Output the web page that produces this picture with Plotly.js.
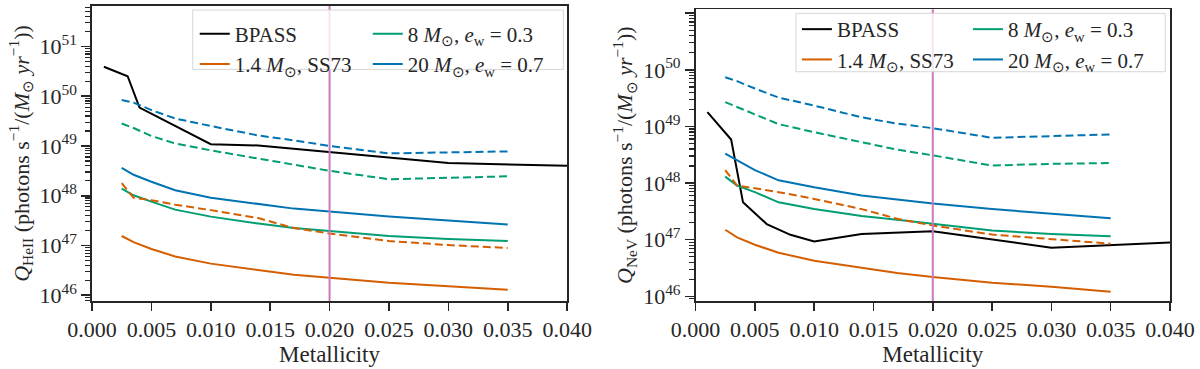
<!DOCTYPE html>
<html>
<head>
<meta charset="utf-8">
<script src="https://cdn.plot.ly/plotly-3.0.1.min.js"></script>
<style>html,body{margin:0;padding:0;background:#fff;}#chart{width:1200px;height:369px;}</style>
</head>
<body>
<div id="chart"></div>
<script>
// ---- data ----
const bpassZ = [0.001, 0.002, 0.003, 0.004, 0.006, 0.008, 0.010, 0.014, 0.020, 0.030, 0.040];
const modelZ = [0.0025, 0.0035, 0.005, 0.007, 0.010, 0.014, 0.017, 0.020, 0.025, 0.030, 0.035];
const solarZ = 0.02;

// Left panel: Q_HeII
const heBPASS      = [3.89e50, 3.16e50, 2.51e50, 5.89e49, 3.35e49, 1.91e49, 1.08e49, 1.02e49, 7.59e48, 4.52e48, 3.98e48];
const heOrange     = [1.55e47, 1.17e47, 8.51e46, 6.03e46, 4.32e46, 3.16e46, 2.57e46, 2.26e46, 1.78e46, 1.51e46, 1.29e46];
const heGreen      = [1.38e48, 1.02e48, 7.59e47, 5.25e47, 3.80e47, 2.75e47, 2.24e47, 1.95e47, 1.55e47, 1.35e47, 1.23e47];
const heBlue       = [3.63e48, 2.63e48, 1.91e48, 1.29e48, 9.12e47, 6.76e47, 5.50e47, 4.79e47, 3.80e47, 3.16e47, 2.63e47];
const heOrangeDash = [1.78e48, 9.12e47, 8.13e47, 6.61e47, 5.13e47, 3.55e47, 2.24e47, 1.74e47, 1.23e47, 1.02e47, 8.91e46];
const heGreenDash  = [2.82e49, 2.29e49, 1.58e49, 1.12e49, 8.13e48, 5.56e48, 4.07e48, 3.16e48, 2.14e48, 2.29e48, 2.45e48];
const heBlueDash   = [8.32e49, 7.41e49, 5.25e49, 3.55e49, 2.51e49, 1.62e49, 1.29e49, 1.00e49, 7.08e48, 7.41e48, 7.76e48];

// Right panel: Q_NeV
const neBPASS      = [1.80e49, 1.02e49, 5.89e48, 4.57e47, 1.89e47, 1.22e47, 9.33e46, 1.26e47, 1.41e47, 7.24e46, 8.91e46];
const neOrange     = [1.50e47, 1.10e47, 8.13e46, 5.89e46, 4.23e46, 3.16e46, 2.57e46, 2.19e46, 1.74e46, 1.48e46, 1.20e46];
const neGreen      = [1.30e48, 9.02e47, 6.92e47, 4.57e47, 3.47e47, 2.63e47, 2.24e47, 1.91e47, 1.45e47, 1.26e47, 1.15e47];
const neBlue       = [3.31e48, 2.51e48, 1.70e48, 1.12e48, 8.41e47, 6.03e47, 5.13e47, 4.37e47, 3.47e47, 2.88e47, 2.40e47];
const neOrangeDash = [1.70e48, 9.02e47, 8.13e47, 6.92e47, 5.25e47, 3.47e47, 2.34e47, 1.78e47, 1.23e47, 1.02e47, 8.51e46];
const neGreenDash  = [2.69e49, 2.21e49, 1.64e49, 1.10e49, 7.94e48, 5.25e48, 3.89e48, 3.09e48, 2.04e48, 2.19e48, 2.26e48];
const neBlueDash   = [7.41e49, 6.31e49, 4.68e49, 3.24e49, 2.34e49, 1.45e49, 1.12e49, 9.33e48, 6.31e48, 6.76e48, 7.24e48];

// series names
const nameBPASS  = 'BPASS';
const nameOrange = '1.4 <i>M</i><sub>⊙</sub>, SS73';
const nameGreen  = '8 <i>M</i><sub>⊙</sub>, <i>e</i><sub>w</sub> = 0.3';
const nameBlue   = '20 <i>M</i><sub>⊙</sub>, <i>e</i><sub>w</sub> = 0.7';

// tick labels
const xTickVals = [0, 0.005, 0.010, 0.015, 0.020, 0.025, 0.030, 0.035, 0.040];
const xTickText = ['0.000', '0.005', '0.010', '0.015', '0.020', '0.025', '0.030', '0.035', '0.040'];
const yTickVals = [1e46, 1e47, 1e48, 1e49, 1e50, 1e51];
const yTickText = ['10<sup>46</sup>', '10<sup>47</sup>', '10<sup>48</sup>', '10<sup>49</sup>', '10<sup>50</sup>', '10<sup>51</sup>'];

// ---- styling ----
const C = {black: '#000000', orange: '#d55e00', green: '#029e73', blue: '#0173b2', vline: '#cc78bc', axis: '#262626'};
const FONT = 'Liberation Serif';
const FS = 22;
const LW = 2;
const DASH = '8px,4px';

const minorVals = [];
for (let e = 45; e <= 51; e++) for (let m = 2; m <= 9; m++) minorVals.push(m * Math.pow(10, e));

function tr(x, y, name, color, xa, ya, opts) {
  return Object.assign({
    type: 'scatter', mode: 'lines', x: x, y: y, name: name,
    line: {color: color, width: LW}, xaxis: xa, yaxis: ya, hoverinfo: 'skip'
  }, opts || {});
}

const traces = [
  // left panel
  tr(bpassZ, heBPASS, nameBPASS, C.black, 'x', 'y', {legend: 'legend', legendrank: 1}),
  tr(modelZ, heOrange, nameOrange, C.orange, 'x', 'y', {legend: 'legend', legendrank: 2}),
  tr(modelZ, heGreen, nameGreen, C.green, 'x', 'y', {legend: 'legend2', legendrank: 3}),
  tr(modelZ, heBlue, nameBlue, C.blue, 'x', 'y', {legend: 'legend2', legendrank: 4}),
  tr(modelZ, heOrangeDash, nameOrange, C.orange, 'x', 'y', {showlegend: false, line: {color: C.orange, width: LW, dash: DASH}}),
  tr(modelZ, heGreenDash, nameGreen, C.green, 'x', 'y', {showlegend: false, line: {color: C.green, width: LW, dash: DASH}}),
  tr(modelZ, heBlueDash, nameBlue, C.blue, 'x', 'y', {showlegend: false, line: {color: C.blue, width: LW, dash: DASH}}),
  // right panel
  tr(bpassZ, neBPASS, nameBPASS, C.black, 'x2', 'y2', {legend: 'legend3', legendrank: 1}),
  tr(modelZ, neOrange, nameOrange, C.orange, 'x2', 'y2', {legend: 'legend3', legendrank: 2}),
  tr(modelZ, neGreen, nameGreen, C.green, 'x2', 'y2', {legend: 'legend4', legendrank: 3}),
  tr(modelZ, neBlue, nameBlue, C.blue, 'x2', 'y2', {legend: 'legend4', legendrank: 4}),
  tr(modelZ, neOrangeDash, nameOrange, C.orange, 'x2', 'y2', {showlegend: false, line: {color: C.orange, width: LW, dash: DASH}}),
  tr(modelZ, neGreenDash, nameGreen, C.green, 'x2', 'y2', {showlegend: false, line: {color: C.green, width: LW, dash: DASH}}),
  tr(modelZ, neBlueDash, nameBlue, C.blue, 'x2', 'y2', {showlegend: false, line: {color: C.blue, width: LW, dash: DASH}})
];

function xAxis(domain, anchor) {
  return {
    domain: domain, anchor: anchor, range: [0, 0.04],
    tickmode: 'array', tickvals: xTickVals, ticktext: xTickText,
    ticks: 'outside', ticklen: 8, tickwidth: 1.6, tickcolor: C.axis,
    showline: true, mirror: true, linecolor: C.axis, linewidth: 1.6,
    showgrid: false, zeroline: false,
    tickfont: {family: FONT, size: FS, color: C.axis},
    title: {text: 'Metallicity', font: {family: FONT, size: 23, color: C.axis}, standoff: 4}
  };
}
function yAxis(domain, anchor, range, label) {
  return {
    domain: domain, anchor: anchor, type: 'log', range: range,
    tickmode: 'array', tickvals: yTickVals, ticktext: yTickText,
    ticks: 'outside', ticklen: 9, tickwidth: 1.6, tickcolor: C.axis,
    minor: {tickmode: 'array', tickvals: minorVals, ticks: 'outside', ticklen: 5, tickwidth: 1.2, tickcolor: C.axis, showgrid: false},
    showline: true, mirror: true, linecolor: C.axis, linewidth: 1.6,
    showgrid: false, zeroline: false,
    tickfont: {family: FONT, size: FS, color: C.axis},
    title: {text: label, font: {family: FONT, size: FS, color: C.axis}, standoff: 4}
  };
}

const yLabelHe = '<i>Q</i><sub>HeII</sub> (photons s<sup>−1</sup>/(<i>M</i><sub>⊙</sub> <i>yr</i><sup>−1</sup>))';
const yLabelNe = '<i>Q</i><sub>NeV</sub> (photons s<sup>−1</sup>/(<i>M</i><sub>⊙</sub> <i>yr</i><sup>−1</sup>))';

function legendAt(x, y) {
  return {
    xref: 'paper', yref: 'paper', x: x, y: y, xanchor: 'left', yanchor: 'top',
    orientation: 'v', bgcolor: 'rgba(0,0,0,0)', borderwidth: 0, tracegroupgap: 0,
    font: {family: FONT, size: 21, color: C.axis}, itemwidth: 30, traceorder: 'normal'
  };
}

// geometry of the plot areas (px)
const L = 92.3, R = 30, T = 6, B = 68.3;
const W = 1200 - L - R, H = 369 - T - B;
const px = v => (v - L) / W;
const py = v => (369 - B - v) / H;

const layout = {
  width: 1200, height: 369,
  margin: {l: L, r: R, t: T, b: B, pad: 0},
  paper_bgcolor: '#fff', plot_bgcolor: '#fff',
  showlegend: true,
  font: {family: FONT, size: FS, color: C.axis},
  xaxis: xAxis([0, px(567.3)], 'y'),
  yaxis: yAxis([0, 1], 'x', [45.885, 51.81], yLabelHe),
  xaxis2: xAxis([px(695.7), 1], 'y2'),
  yaxis2: yAxis([0, py(9.3)], 'x2', [45.917, 51.07], yLabelNe),
  legend:  legendAt(px(195), py(13.5)),
  legend2: legendAt(px(368), py(13.5)),
  legend3: legendAt(px(797), py(9)),
  legend4: legendAt(px(968), py(9)),
  shapes: [
    {type: 'line', xref: 'x', yref: 'y domain', x0: solarZ, x1: solarZ, y0: 0, y1: 1, line: {color: C.vline, width: 2}, layer: 'above'},
    {type: 'line', xref: 'x2', yref: 'y2 domain', x0: solarZ, x1: solarZ, y0: 0, y1: 1, line: {color: C.vline, width: 2}, layer: 'above'},
    {type: 'rect', xref: 'x domain', yref: 'y domain', x0: 0.212, x1: 0.992, y0: 0.785, y1: 0.9864,
     fillcolor: 'rgba(255,255,255,0.8)', line: {color: '#d6d6d6', width: 1}, layer: 'above'},
    {type: 'rect', xref: 'x2 domain', yref: 'y2 domain', x0: 0.2115, x1: 0.990, y0: 0.786, y1: 0.986,
     fillcolor: 'rgba(255,255,255,0.8)', line: {color: '#d6d6d6', width: 1}, layer: 'above'}
  ]
};

Plotly.newPlot('chart', traces, layout, {staticPlot: true, displayModeBar: false});
</script>
</body>
</html>
